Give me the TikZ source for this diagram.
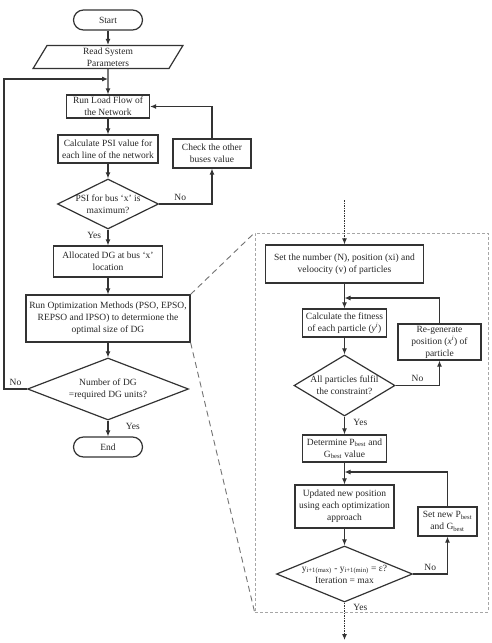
\documentclass[tikz,border=0pt]{standalone}
\usepackage{fontspec}
\setmainfont{Liberation Serif}
\usetikzlibrary{shapes.geometric, arrows.meta}
\begin{document}
\begin{tikzpicture}[x=1pt, y=-1pt, >={Latex[length=6pt,width=5pt]},
  every node/.style={font=\fontsize{9.5}{12}\selectfont, text=black!85, align=center},
  proc/.style={draw=black!80, line width=1.2pt, inner sep=1pt},
  term/.style={draw=black!80, line width=1.2pt, rounded corners=10pt, minimum width=69pt, minimum height=20pt},
  iobox/.style={draw=black!80, line width=1.2pt, trapezium, trapezium left angle=73, trapezium right angle=107, trapezium stretches=true, minimum width=150pt, minimum height=23pt, inner sep=0pt},
  dec/.style={draw=black!80, line width=1.2pt, diamond, aspect=2, inner sep=-3pt},
  flow/.style={->, draw=black!80, line width=1.1pt},
  dots/.style={dash pattern=on 1.5pt off 1pt},
  zoomline/.style={draw=black!55, line width=0.9pt, dash pattern=on 6pt off 4pt},
  zoomframe/.style={draw=black!35, line width=0.7pt, dash pattern=on 3pt off 2pt, minimum width=233pt, minimum height=379pt}]
\useasboundingbox (0,0) rectangle (491,643);
\begin{scope}
\node[term] (start) at (108,20) {Start};
\node[iobox] (read) at (108,57) {Read System\\Parameters};
\node[proc, minimum width=83pt, minimum height=23pt] (load) at (108,106.5) {Run Load Flow of\\the Network};
\node[proc, minimum width=100pt, minimum height=28pt] (psi) at (108,149) {Calculate PSI value for\\each line of the network};
\node[proc, minimum width=78pt, minimum height=29pt] (check) at (212,153.5) {Check the other\\buses value};
\node[dec, minimum width=101pt, minimum height=50pt] (dpsi) at (108,204) {PSI for bus `x' is\\maximum?};
\node[proc, minimum width=109pt, minimum height=31pt] (alloc) at (108,261.5) {Allocated DG at bus `x'\\location};
\node[proc, minimum width=164pt, minimum height=47pt] (opt) at (108,318.5) {Run Optimization Methods (PSO, EPSO,\\REPSO and IPSO) to determione the\\optimal size of DG};
\node[dec, minimum width=161pt, minimum height=62pt] (dnum) at (108,389) {Number of DG\\=required DG units?};
\node[term] (end) at (108,447) {End};
\coordinate (j1) at (108,79);
\coordinate (lft) at (4,79);
\draw[flow] (start) -- (read);
\draw[flow] (read) -- (load);
\draw[flow] (load) -- (psi);
\draw[flow] (psi) -- (dpsi);
\draw[flow] (dpsi.east) -| node[pos=0.2, above] {No} (check.south);
\draw[flow] (check.north) |- (load.east);
\draw[flow] (dpsi.south) -- node[left, pos=0.4, xshift=-3pt] {Yes} (alloc);
\draw[flow] (alloc) -- (opt);
\draw[flow] (opt) -- (dnum);
\draw[flow] (dnum.south) -- node[right, pos=0.35, xshift=14pt] {Yes} (end);
\draw[flow] (dnum.west) -| node[pos=0.25, above] {No} (lft) -- (j1);
\end{scope}
\begin{scope}
\node[zoomframe] (zb) at (371.5,422.5) {};
\draw[zoomline] (opt.north east) -- (zb.north west);
\draw[zoomline] (opt.south east) -- (zb.south west);
\node[proc, minimum width=158pt, minimum height=38pt] (init) at (344.5,264) {Set the number (N), position (xi) and\\veloocity (v) of particles};
\node[proc, minimum width=84pt, minimum height=28pt] (fit) at (344.5,323) {Calculate the fitness\\of each particle (\textit{y}\textsuperscript{\textit{i}})};
\node[proc, minimum width=83pt, minimum height=36pt] (regen) at (439.5,342) {Re-generate\\position (\textit{x}\textsuperscript{\textit{i}}) of\\particle};
\node[dec, minimum width=101pt, minimum height=61pt] (dcon) at (344.5,385.5) {All particles fulfil\\the constraint?};
\node[proc, minimum width=84pt, minimum height=27pt] (best) at (344.5,448.5) {Determine P\textsubscript{best} and\\G\textsubscript{best} value};
\node[proc, minimum width=99pt, minimum height=43pt] (upd) at (344.5,506.5) {Updated new position\\using each optimization\\approach};
\node[proc, minimum width=59pt, minimum height=29pt] (setb) at (447.5,521.5) {Set new P\textsubscript{best}\\and G\textsubscript{best}};
\node[dec, minimum width=136pt, minimum height=56pt] (dit) at (344.5,574) {y\textsubscript{i+1(max)} - y\textsubscript{i+1(min)} = ε?\\Iteration = max};
\coordinate (rin) at (344.5,200);
\coordinate (j2) at (344.5,298);
\coordinate (j3) at (344.5,472);
\coordinate (rout) at (344.5,640);
\draw[flow, dots] (rin) -- (init);
\draw[flow] (init) -- (fit);
\draw[flow] (regen.north) |- (j2);
\draw[flow] (fit) -- (dcon);
\draw[flow] (dcon.east) -| node[pos=0.25, above] {No} (regen.south);
\draw[flow] (dcon.south) -- node[right, pos=0.35, xshift=5pt] {Yes} (best);
\draw[flow] (best) -- (upd);
\draw[flow] (setb.north) |- (j3);
\draw[flow] (upd) -- (dit);
\draw[flow] (dit.east) -| node[pos=0.25, above] {No} (setb.south);
\draw[flow, dots] (dit.south) -- node[right, pos=0.12, xshift=5pt] {Yes} (rout);
\end{scope}
\end{tikzpicture}
\end{document}
